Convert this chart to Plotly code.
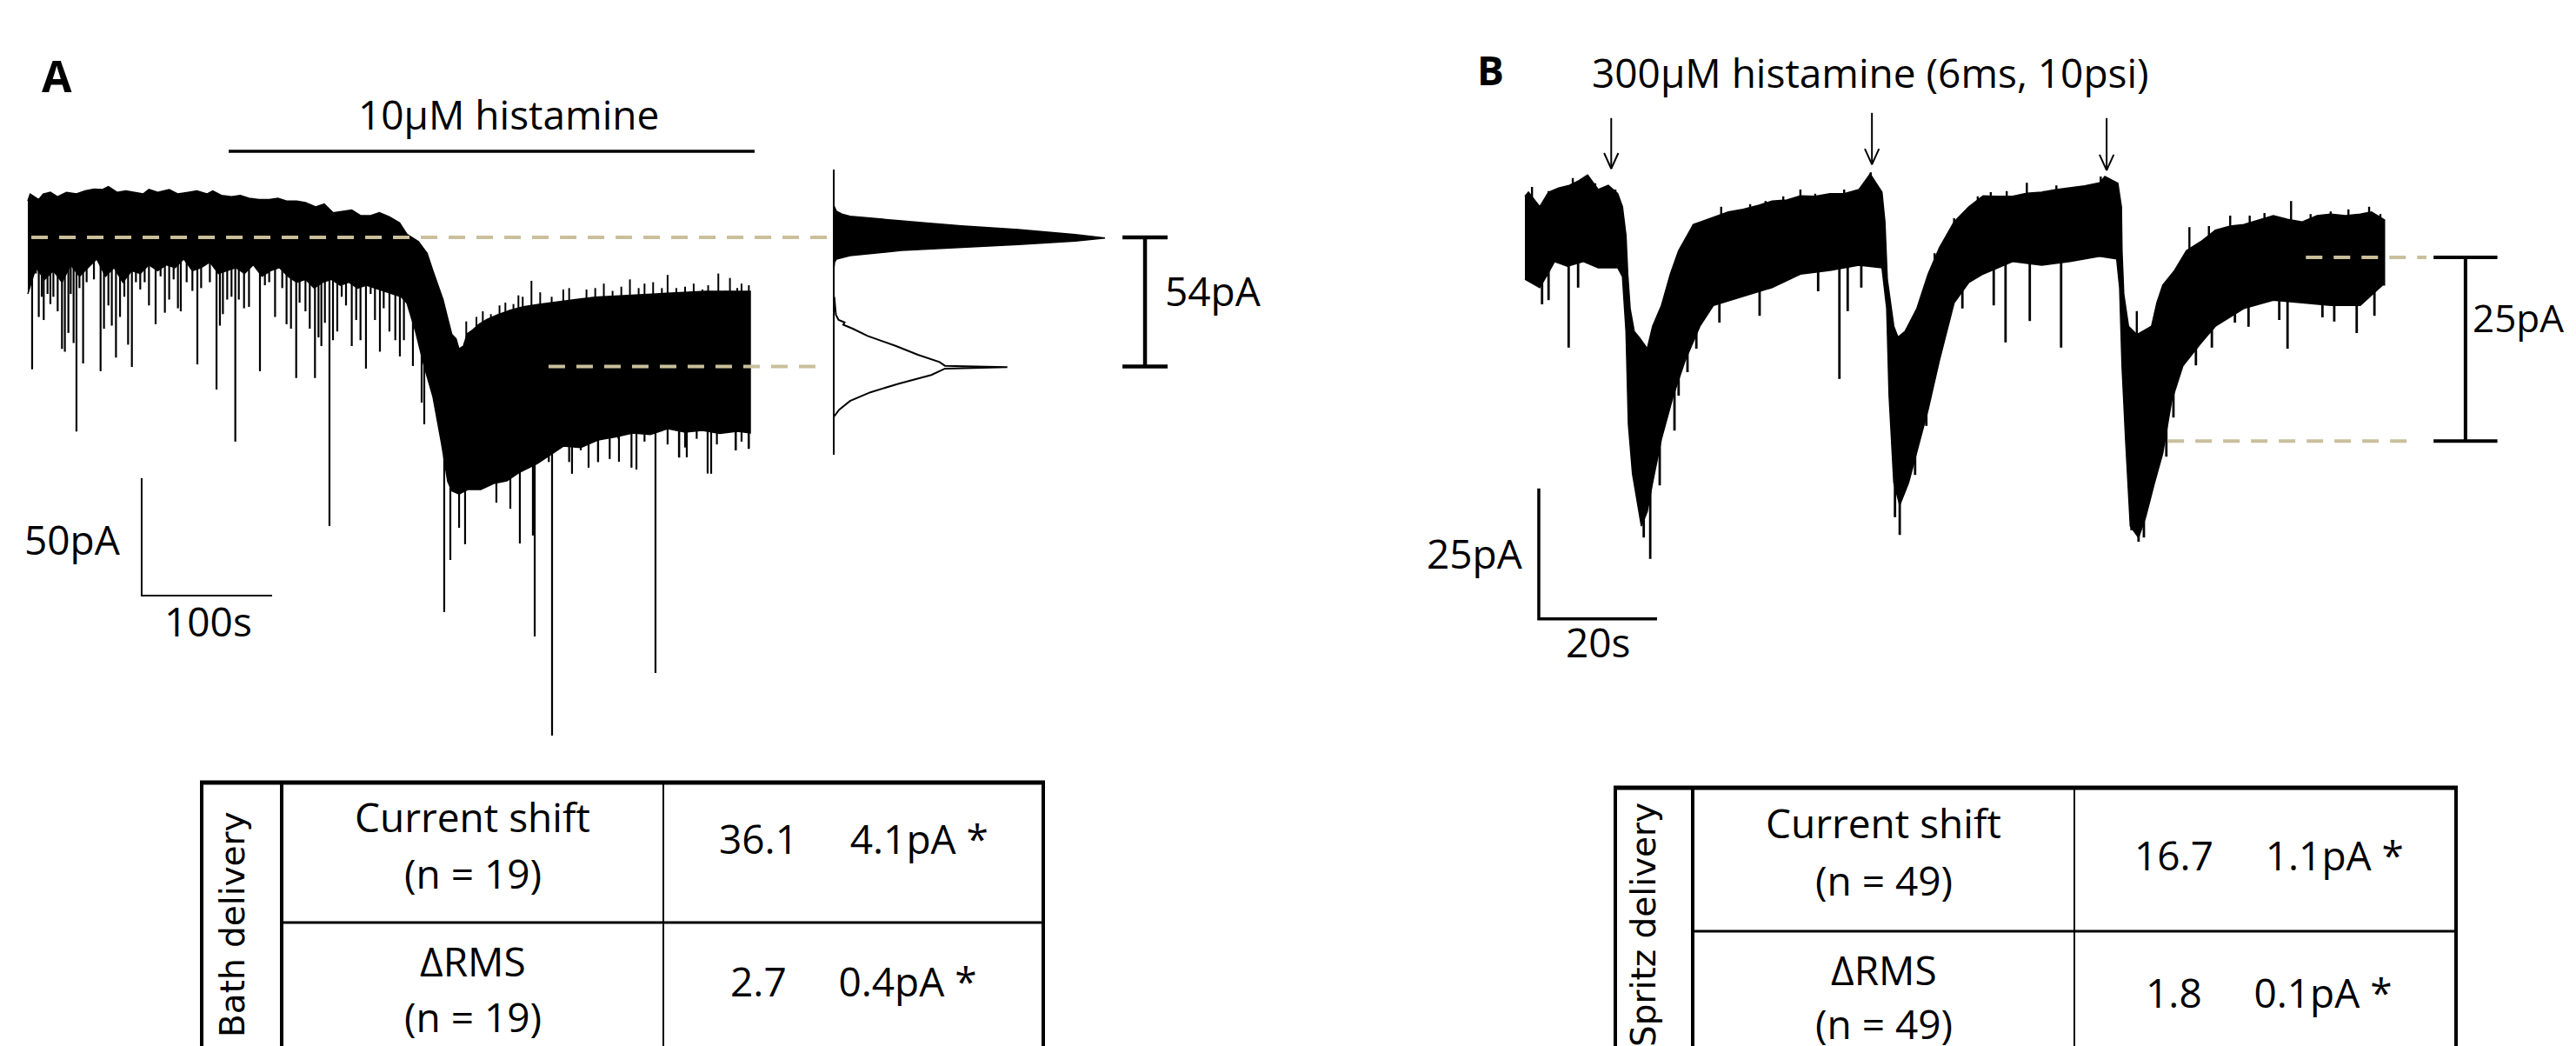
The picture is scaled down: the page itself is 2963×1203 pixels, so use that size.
import numpy as np
import plotly.graph_objects as go

W, H = 2963, 1203

# ---------------- Panel A : bath application trace (time s, current pA) ----------------
A_T_UP = [0, 1.8, 8.4, 11.8, 17.3, 22.9, 29.6, 37.3, 44, 50.7, 57.3, 61.8, 68.4, 75.1, 81.8, 88.4, 92.9, 99.6,
          108.4, 115.1, 122.9, 129.6, 137.3, 141.8, 148.4, 156.2, 162.9, 169.6, 177.3, 185.1, 191.8, 198.4, 206.2,
          212.9, 220.7, 227.3, 234, 241.8, 248.4, 255.1, 262.9, 269.6, 277.3, 285.1, 290.7,
          299.5, 306.2, 310.6, 315.1, 318.4, 321.7, 325.1, 328.4, 330.6,
          334, 337, 341, 346, 352, 360, 370, 380, 392, 405, 420, 435, 450, 465, 480, 500, 520, 540, 554]
A_UP = [15.5, 18.5, 16.1, 18.5, 19.2, 17.3, 19.2, 18.5, 19.8, 20.6, 20.4, 21.6, 19.2, 19.8, 19.2, 18.5, 20.4, 19.2,
        20.4, 18.5, 19.2, 19.8, 18.5, 19.8, 17.9, 17.3, 17.9, 16.7, 16.1, 16.1, 16.7, 15.5, 15.5, 14.8, 13.0, 14.2,
        10.5, 11.1, 11.7, 9.3, 9.3, 10.5, 8.7, 6.2, 1.3,
        -1.8, -6.8, -14.2, -21.6, -26.5, -33.9, -41.3, -43.2, -47.5,
        -46.3, -41, -39.5, -37, -35, -33, -31, -29.5, -28.5, -27.5, -26.5, -25.5, -25, -24.5, -24, -23.5, -23, -23,
        -23]
# upward noise excursions above the band after the shift (time s, pA)
A_HAIR_T = [336.2, 344, 348.9, 355.1, 361.7, 366.2, 372.4, 376.2, 379.5, 386.2, 392.9, 401.7, 410.6, 415.1, 428.4,
            435.1, 441.7, 448.4, 455.1, 461.7, 468.4, 472.9, 479.5, 486.2, 490.6, 497.3, 504, 510.6, 517.3, 521.7,
            529.5, 535.1, 538.4, 544, 547.3, 552.9]
A_HAIR = [-35.8, -33.9, -31.5, -32.7, -29, -27.8, -28.4, -24.7, -25.3, -18.5, -23.4, -25.3, -22.2, -21.6, -22.2,
          -21.6, -19.7, -22.8, -21, -17.9, -21.6, -19.7, -19.1, -21.6, -16, -21.6, -21, -19.7, -22.2, -20.4, -15.4,
          -22.8, -17.3, -21.6, -19.7, -20.4]
A_T_LO = [0, 6.2, 12.9, 19.6, 26.2, 32.9, 39.6, 46.2, 52.9, 59.6, 66.2, 72.9, 79.6, 86.2, 92.9, 99.6, 106.2, 112.9,
          119.6, 126.2, 132.9, 139.6, 146.2, 152.9, 159.6, 166.2, 172.9, 179.6, 186.2, 192.9, 199.6, 206.2, 212.9,
          219.6, 226.2, 232.9, 239.6, 246.2, 252.9, 259.6, 266.2, 272.9, 279.6, 286.2, 290.7, 297.3, 304, 310.7,
          317.3, 322, 325.3, 330.7, 337.3, 347.3, 357.3, 367.3, 377.3, 390.7, 410.7, 424, 437.3, 450.7, 464, 477.3,
          490.7, 504, 517.3, 530.7, 544, 554]
A_LO = [-24.1, -12.9, -17.9, -14.2, -19.1, -11.7, -16.6, -12.9, -9.2, -16.6, -12.9, -19.1, -14.2, -15.4, -11.7,
        -14.2, -11.7, -12.9, -9.2, -14.2, -12.9, -10.5, -15.4, -14.2, -12.9, -15.4, -11.7, -16.6, -14.2, -12.9,
        -16.6, -19.1, -17.9, -21.6, -19.1, -17.9, -20.4, -19.1, -21.6, -20.4, -21.6, -22.8, -24.1, -25.3, -28,
        -40, -55, -68, -88, -104, -108, -109.3, -107.4, -107.4, -104.8, -103.7, -100, -96.3, -88.9, -89.5, -86.3,
        -85, -83.3, -84, -81.5, -83, -82.2, -83.5, -82.6, -83.3]
# large events (time s, peak pA)
A_SPK_T = [3.3, 8.4, 12.2, 17.3, 26.2, 28.4, 31.1, 35.1, 37.3, 42.4, 55.8, 58.4, 64.4, 67.6, 70.7, 76.9, 79.8,
           92.9, 98, 105.1, 115.1, 117.3, 130, 144.7, 147.3, 159.1, 165.8, 178, 189.6, 198.4, 201.8, 205.8, 216.2,
           220.2, 225.1, 231.3, 234, 248.4, 255.1, 259.3, 270, 281.8, 285.3, 295.3, 302, 304, 319.3, 324, 330.7,
           335.3, 359.3, 370, 377.3, 387.3, 388.7, 402, 417.3, 430, 437.3, 453.3, 466.7, 481.3, 499.3, 505.3, 524,
           542.7, 552.7]
A_SPK = [-56.2, -33.9, -35.2, -28.4, -47.5, -48.7, -40.7, -45, -82.7, -53.7, -57, -38.9, -37.6, -51.2, -33.9,
         -45.7, -55.2, -29, -37, -32.1, -30.2, -31.5, -54.1, -64.8, -37.6, -87, -30.2, -57, -33.9, -37, -38.9,
         -59.9, -38.9, -59.9, -46.3, -123, -43.8, -46.3, -43.8, -55.9, -48.7, -43.8, -50.7, -54.8, -70.4, -79.6,
         -159.6, -137.4, -123.7, -130.7, -113, -115.6, -130.4, -127, -170, -212.2, -100.7, -98.1, -95.6, -95.6,
         -98.9, -185.6, -93.7, -93.7, -100.7, -90.7, -90]
# small events fringing the noise band
A_FR_T = [6.2, 10.7, 15.1, 19.6, 22.9, 32.9, 39.6, 45.1, 50.7, 61.8, 74, 82.9, 86.2, 89.6, 101.8, 108.4, 111.8,
          121.8, 126.2, 132.9, 139.6, 149.6, 152.9, 156.2, 161.8, 169.6, 181.8, 185.1, 195.1, 208.4, 212.9, 222.9,
          227.8, 237.3, 240.7, 244, 251.8, 262.9, 266.2, 272.9, 277.3, 288.4, 399.5, 415.1, 424, 430.6, 437.3,
          446.2, 452.9, 462.9, 472.9, 490.6, 499.5, 504, 512.9, 521.3, 528.4, 542.9, 547.3, 552.9]
A_FR = [-15.4, -25.3, -24.1, -25.3, -31.5, -24.1, -21.6, -19.1, -17.9, -29, -25.3, -19.1, -22.2, -19.1, -16.6,
        -26.5, -17.9, -19.1, -22.8, -21.6, -19.1, -32.7, -26.5, -25.3, -26.5, -29.6, -20.4, -19.1, -21.6, -27.8,
        -31.5, -42.6, -36.4, -40.1, -25.3, -29, -35.2, -24.1, -35.2, -30.2, -40.1, -43.8, -95.7, -95.7, -90.7,
        -87.6, -95.7, -94.4, -85.8, -98.1, -87, -88.2, -93.8, -89.5, -85.8, -100.6, -88.2, -90.7, -87, -90.1]
A_HISTAMINE = (154, 557.3)      # application bar, s
A_LEVELS = [0, -55]             # baseline / histamine current, pA
A_BRACKET_LABEL = "54pA"

# All-points histograms (relative density vs current, pA)
H0_PA = [13.6, 11.1, 9.9, 9.0, 7.0, 4.9, 3.3, 1.2, -0.3, -1.6, -3.1, -4.3, -5.6, -7.8, -9.3, -10.5, -14]
H0_D = [0, 0.01, 0.03, 0.06, 0.25, 0.47, 0.68, 0.89, 1.0, 0.89, 0.68, 0.47, 0.25, 0.06, 0.01, 0.003, 0]
H1_PA = [-25.3, -33, -35.2, -36.2, -37.2, -38.9, -42, -46.3, -50, -53.1, -54.7, -55.3, -55.9, -56.4, -58.6,
         -62.3, -66, -69.7, -73.4, -76.2]
H1_D = [0.002, 0.008, 0.018, 0.04, 0.035, 0.07, 0.125, 0.23, 0.31, 0.39, 0.41, 0.64, 0.41, 0.40, 0.36, 0.24,
        0.135, 0.06, 0.02, 0.002]
H_AXIS_PA = (28.9, -92.6)

# ---------------- Panel B : spritz application trace ----------------
B_T_UP = [0, 0.6, 2.5, 4, 5.7, 7.5, 9.1, 10.6, 12.4, 14.1, 15.7, 16.5, 17.1, 17.4, 17.8, 18.5, 19.3, 20.7, 21.6,
          23.1, 24.6, 26, 28.5, 31.9, 34.4, 36.9, 39.6, 41.8, 44.3, 46.6, 49.1, 51.6, 54, 56.5, 58.4, 60.4, 60.9,
          61.3, 62.4, 63.1, 64.3, 66.3, 68.2, 70.1, 72.6, 75.1, 77.5, 80, 82.5, 84.9, 87.4, 89.9, 92.2, 94.7, 97.2,
          98.1, 100.3, 100.9, 101, 101.3, 102.1, 103.5, 106, 106.9, 107.9, 109.9, 111.9, 114.3, 116.8, 119.3,
          121.6, 124.1, 126.6, 129, 131.5, 134, 136.3, 138.8, 141.3, 143.2, 145.1, 145.4]
B_UP = [11.7, 12.5, 9.7, 12.5, 13.3, 13.8, 14.7, 15.8, 13, 13.8, 12.2, 9.7, 4.2, -3.2, -9.8, -14.2, -15.3, -17.5,
        -13.2, -9.2, -3.2, 1.3, 6.3, 7.7, 8.7, 9.2, 10, 10.8, 11, 11.8, 11.7, 12.2, 12.2, 13, 16, 12.5, 6.8, -4.2,
        -13.2, -15.3, -14.2, -9.8, -3.2, 1.8, 6.8, 9.7, 11.8, 11.7, 11.7, 12.3, 12.5, 13, 13.3, 13.7, 14.3, 15.5,
        14.2, 9.7, 1.3, -7, -13.2, -14.8, -13.2, -8.7, -5.3, -2.5, 1.3, 3, 5.2, 6, 6.3, 7.2, 8, 7.3, 6.8, 8, 8.3,
        8, 8.3, 8.7, 7.5, 7.2]
# upward noise excursions (time s, pA)
B_HAIR_T = [1.2, 4, 8.1, 9.4, 10.6, 11.9, 13.8, 15.3, 28.5, 33.2, 38.1, 40.7, 43.7, 46.6, 49.1, 54, 58.5, 59.9,
            69.3, 72.6, 76.6, 78.8, 81.5, 84.9, 87.8, 89.9, 92.8, 95.7, 97.4, 99.1, 103.5, 112.4, 115.7, 119.3,
            122.6, 125.1, 129.6, 132.9, 136.3, 139.3, 142.8, 144.7]
B_HAIR = [13.5, 12.7, 15.2, 14.2, 15.8, 14.2, 13.3, 13, 6.3, 9.7, 10.2, 10.8, 11.7, 13, 12.2, 13, 16.3, 12.7, 0.8,
          7.5, 11.7, 12.5, 12.7, 14.3, 12.7, 13.8, 13.5, 13, 15.5, 14.7, -10.3, 5.8, 6, 8, 8, 8.5, 10.8, 8.3, 8.8,
          9.2, 9.7, 8.3]
B_T_LO = [0, 1.3, 2.5, 3.8, 5, 7.2, 9.9, 12.4, 15.7, 16.5, 17.1, 17.5, 18.2, 19.7, 20.7, 21.6, 23.1, 25.1, 27.1,
          29.6, 31.9, 36.9, 41.8, 46.6, 51.6, 56.5, 60.4, 61.2, 61.6, 62.4, 63.4, 64.9, 66.3, 68.2, 70.1, 72.6,
          75.1, 77.5, 82.5, 87.4, 92.2, 97.2, 100.1, 100.6, 101, 101.6, 102.4, 103.8, 105, 106.5, 107.9, 109.4,
          111.3, 114.3, 116.8, 121.6, 126.6, 131.5, 136.3, 141.3, 145.1, 145.4]
B_LO = [-4.2, -5, -5.8, -3.3, -0.8, -1.7, -0.8, -2, -2, -3.7, -14.2, -32, -41.5, -51.5, -48.7, -43.2, -34.8, -26.5,
        -19.8, -13.2, -9.2, -7.5, -5.8, -3.2, -2.5, -1.5, -2, -9.8, -26.5, -43.2, -47.5, -43.2, -37.5, -29.2,
        -19.8, -8.7, -4.8, -3.2, -0.8, -1.5, -0.8, 0.2, -0.3, -5.8, -20.8, -34.8, -51.5, -53.7, -49.8, -43.2,
        -37.5, -27.5, -20.8, -16.5, -13.2, -9.8, -8.2, -8.7, -9.2, -9.2, -5.3, -5.3]
B_SPK_T = [2.9, 4, 7.4, 9, 20.1, 21.2, 22.8, 25.3, 26, 27.5, 29, 32.9, 39.7, 49.6, 53.2, 54.6, 56.9, 62.6, 63.4,
           66, 67.9, 68.5, 74, 79.3, 81.3, 85.4, 90.7, 102.6, 103.8, 104.7, 108.5, 109.7, 113.5, 116.2, 120.1,
           122.4, 127.6, 129, 134.9, 136.9, 140.7, 143.7]
B_SPK = [-9, -8.2, -17.3, -5.8, -53.7, -57.8, -43.7, -33.2, -26.5, -22, -17.5, -12.5, -11.2, -6.5, -23.3, -10.3,
         -5.8, -49.8, -53.2, -41.7, -32.3, -26.5, -9.8, -9.2, -16.3, -12.2, -17.3, -52.3, -54.5, -53.7, -38.2,
         -30.7, -20.7, -17.3, -12.5, -13.3, -12, -17.5, -11.5, -12.3, -14.5, -11.2]
B_PUFF_T = [14.6, 58.7, 98.4]
B_ARROW_TOP = [26.7, 27.7, 26.7]
B_ARROW_TIP = [17.0, 17.8, 16.7]
B_LEVELS = [0, -35.2]
B_BRACKET_LABEL = "25pA"

# ---------------- Tables ----------------
ROW_LABELS = ["Current shift<br>(n = {n})", "\u0394RMS<br>(n = {n})"]
A_TABLE = dict(title="Bath delivery", n=19, vals=["36.1", "2.7"], errs=["4.1pA *", "0.4pA *"])
B_TABLE = dict(title="Spritz delivery", n=49, vals=["16.7", "1.8"], errs=["1.1pA *", "0.1pA *"])

TAN = "rgb(201,191,155)"
FONT = "Open Sans"

fig = go.Figure()


def add_line(x, y, xa, ya, w, color="black", dash=None):
    fig.add_trace(go.Scatter(x=x, y=y, xaxis=xa, yaxis=ya, mode="lines",
                             line=dict(color=color, width=w, dash=dash),
                             hoverinfo="skip", showlegend=False))


def add_band(t_up, up, t_lo, lo, xa, ya):
    fig.add_trace(go.Scatter(x=list(t_up) + list(t_lo)[::-1], y=list(up) + list(lo)[::-1],
                             xaxis=xa, yaxis=ya, mode="lines", fill="toself", fillcolor="black",
                             line=dict(color="black", width=1.5), hoverinfo="skip", showlegend=False))


def add_spikes(ts, tips, t_ref, ref, xa, ya, w, inset):
    """vertical excursions from inside the band (edge + inset) out to the read tip value"""
    xs, ys = [], []
    for t, d in zip(ts, tips):
        start = float(np.interp(t, t_ref, ref)) + inset
        xs += [t, t, None]
        ys += [start, d, None]
    add_line(xs, ys, xa, ya, w)


# Panel A trace
add_band(A_T_UP, A_UP, A_T_LO, A_LO, "x", "y")
add_spikes(A_HAIR_T, A_HAIR, A_T_UP, A_UP, "x", "y", 2, -2)
add_spikes(A_FR_T, A_FR, A_T_LO, A_LO, "x", "y", 2.2, 2)
add_spikes(A_SPK_T, A_SPK, A_T_LO, A_LO, "x", "y", 2.2, 2)
# dashed level lines
add_line([2.7, 612.7], [A_LEVELS[0]] * 2, "x", "y", 4, TAN, "19px,13px")
add_line([399.3, 606.7], [A_LEVELS[1]] * 2, "x", "y", 4, TAN, "19px,13px")
# histamine application bar
add_line(list(A_HISTAMINE), [36.7, 36.7], "x", "y", 3.5)
# scale bar 100 s / 50 pA
add_line([87.3, 87.3, 187.3], [-152.6 + 50, -152.6, -152.6], "x", "y", 2)
# bracket
bx = 856.7
add_line([bx - 17.3, bx + 17.3, None, bx, bx, None, bx - 17.3, bx + 17.3],
         [A_LEVELS[0], A_LEVELS[0], None, A_LEVELS[0], A_LEVELS[1], None, A_LEVELS[1], A_LEVELS[1]],
         "x", "y", 4.5)

# Histograms
add_line([0, 0], list(H_AXIS_PA), "x2", "y", 2)
fig.add_trace(go.Scatter(x=H0_D, y=H0_PA, xaxis="x2", yaxis="y", mode="lines", fill="toself",
                         fillcolor="black", line=dict(color="black", width=1.5),
                         hoverinfo="skip", showlegend=False))
add_line(H1_D, H1_PA, "x2", "y", 2)

# Panel B trace
add_band(B_T_UP, B_UP, B_T_LO, B_LO, "x3", "y2")
add_spikes(B_HAIR_T, B_HAIR, B_T_UP, B_UP, "x3", "y2", 2.4, -3)
add_spikes(B_SPK_T, B_SPK, B_T_LO, B_LO, "x3", "y2", 2.8, 2)
add_line([132.1, 152.5], [B_LEVELS[0]] * 2, "x3", "y2", 4, TAN, "19px,13px")
add_line([108.7, 149.9], [B_LEVELS[1]] * 2, "x3", "y2", 4, TAN, "19px,13px")
# puff arrows
ax, ay = [], []
for t, top, tip in zip(B_PUFF_T, B_ARROW_TOP, B_ARROW_TIP):
    ax += [t, t, None, t - 1.2, t, t + 1.2, None]
    ay += [top, tip, None, tip + 3.0, tip, tip + 3.0, None]
add_line(ax, ay, "x3", "y2", 2)
# scale bar 20 s / 25 pA
add_line([2.35, 2.35, 22.35], [-69.3 + 25, -69.3, -69.3], "x3", "y2", 3.5)
bx = 159.1
add_line([bx - 5.4, bx + 5.4, None, bx, bx, None, bx - 5.4, bx + 5.4],
         [B_LEVELS[0], B_LEVELS[0], None, B_LEVELS[0], B_LEVELS[1], None, B_LEVELS[1], B_LEVELS[1]],
         "x3", "y2", 4)

# ---------------- layout helpers (pixel -> paper) ----------------
def px(x):
    return x / W


def py(y):
    return 1 - y / H


annotations = []
DY = 12  # text box centre sits slightly below the cap-height centre


def text(s, x, y, size=46, xanchor="center", family=FONT, angle=0, weight="normal"):
    if angle == 0:
        y = y - DY
    else:
        x = x - DY
    annotations.append(dict(text=s, x=px(x), y=py(y), xref="paper", yref="paper", showarrow=False,
                            xanchor=xanchor, yanchor="middle", textangle=angle,
                            font=dict(family=family, size=size, color="black", weight=weight)))


shapes = []


def seg(x0, y0, x1, y1, w):
    shapes.append(dict(type="line", xref="paper", yref="paper", x0=px(x0), y0=py(y0), x1=px(x1), y1=py(y1),
                       line=dict(color="black", width=w)))


text("A", 57, 91, 50, weight="bold")
text("10\u00b5M histamine", 577, 135)
text(A_BRACKET_LABEL, 1330, 338, xanchor="left")
text("50pA", 133, 624, xanchor="right")
text("100s", 231, 718)

text("B", 1706, 84, 46, weight="bold")
text("300\u00b5M histamine (6ms, 10psi)", 2143, 87)
text(B_BRACKET_LABEL, 2834, 369, 44, xanchor="left")
text("25pA", 1746, 640, xanchor="right")
text("20s", 1830, 742)

SP = "\u00a0" * 5


def table(tb, left, lab_right, div, right, top, row_y, ys, lab_center, val_x):
    seg(left - 2, top, right + 2, top, 5)
    seg(left, top, left, H, 4)
    seg(lab_right, top, lab_right, H, 4)
    seg(div, top, div, H, 2)
    seg(right, top, right, H, 4)
    seg(lab_right, row_y, right, row_y, 3)
    text(tb["title"], lab_center[0], lab_center[1], 39, family="DejaVu Sans", angle=-90)
    cx = (lab_right + div) / 2
    for i in range(2):
        name, n_line = ROW_LABELS[i].format(n=tb["n"]).split("<br>")
        text(name, cx, ys[i][0])
        text(n_line, cx, ys[i][1])
        text(tb["vals"][i] + SP + tb["errs"][i], val_x, ys[i][2])


table(A_TABLE, 224, 316, 755, 1192, 892, 1053,
      [(943, 1008, 968), (1109, 1173, 1132)], (271, 1055), 974)
table(B_TABLE, 1850, 1939, 2378, 2817, 898, 1063,
      [(950, 1016, 987), (1119, 1181, 1145)], (1894, 1056), 2602)

ax_common = dict(visible=False, fixedrange=True, domain=[0, 1])
fig.update_layout(
    width=W, height=H, autosize=False,
    margin=dict(l=0, r=0, t=0, b=0),
    paper_bgcolor="white", plot_bgcolor="white",
    showlegend=False, hovermode=False,
    xaxis=dict(range=[-24 / 1.5, (W - 24) / 1.5], **ax_common),
    yaxis=dict(range=[(265 - H) / 2.7, 265 / 2.7], **ax_common),
    xaxis2=dict(range=[-951 / 312, (W - 951) / 312], overlaying="x", anchor="y", **ax_common),
    xaxis3=dict(range=[-1746 / 6.8, (W - 1746) / 6.8], overlaying="x", anchor="y2", **ax_common),
    yaxis2=dict(range=[(288 - H) / 6.0, 288 / 6.0], overlaying="y", anchor="x3", **ax_common),
    annotations=annotations,
    shapes=shapes,
)

fig.write_html("out.html", config={"displayModeBar": False})
